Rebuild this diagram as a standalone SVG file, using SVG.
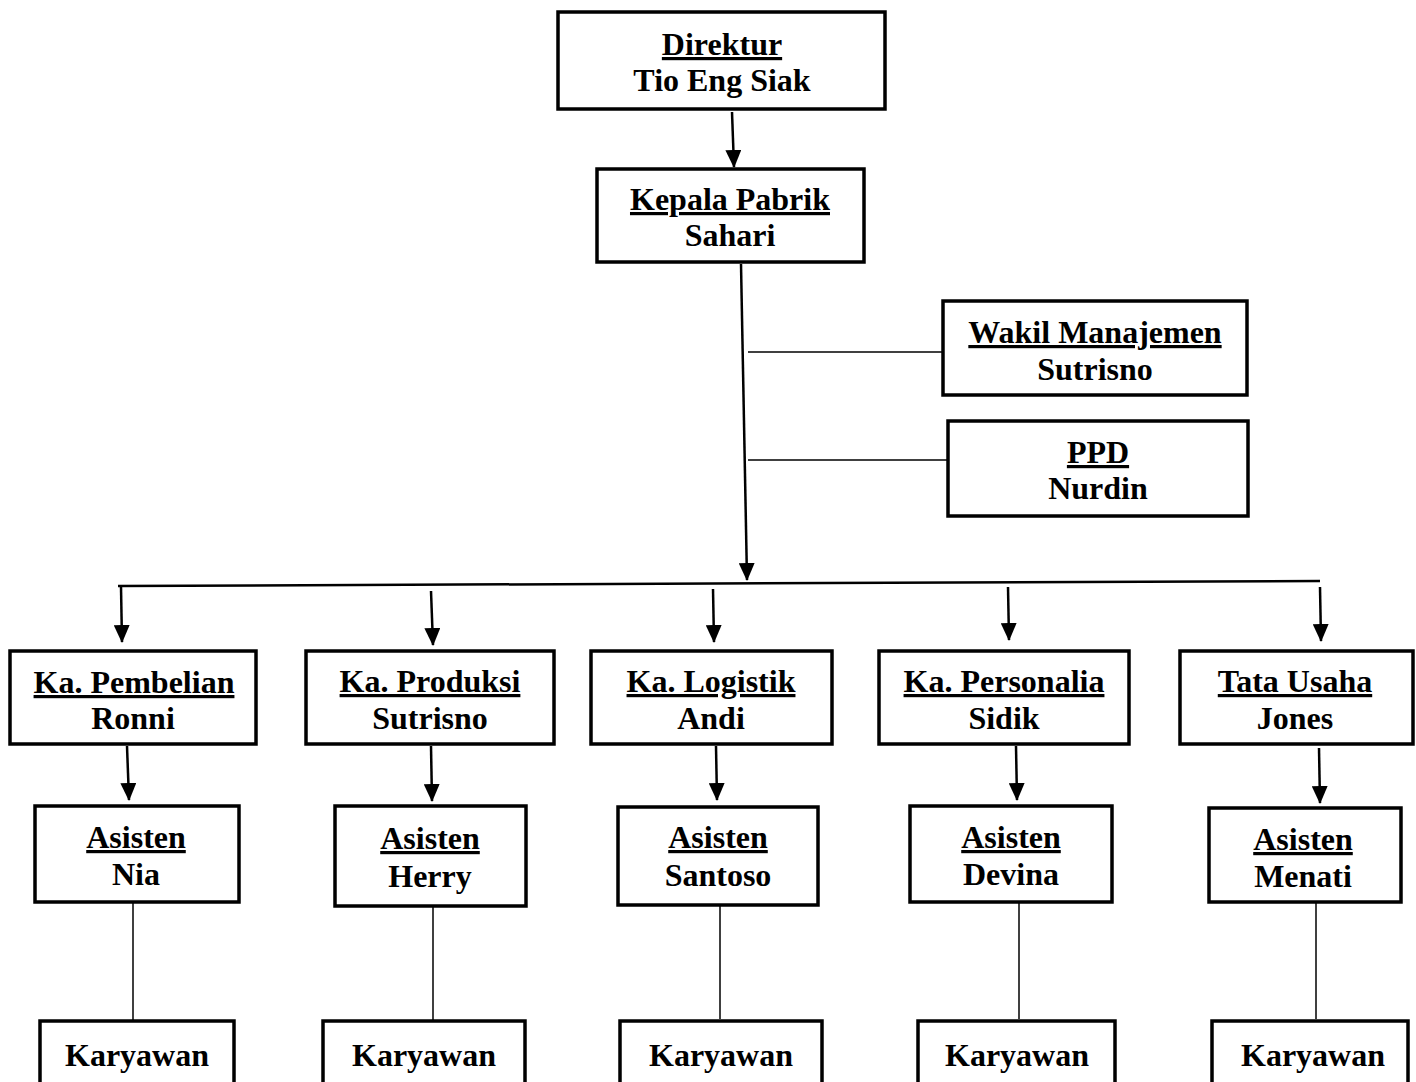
<svg xmlns="http://www.w3.org/2000/svg" width="1416" height="1082" viewBox="0 0 1416 1082">
<style>
.box{fill:#fff;stroke:#000;stroke-width:3.5}
.t{font-family:"Liberation Serif","Times New Roman",serif;font-weight:bold;font-size:32px;text-anchor:middle;fill:#000}
.u{text-decoration:underline;text-decoration-thickness:3px}
.arr{stroke:#000;stroke-width:2.5;fill:none;marker-end:url(#ah)}
.bus{stroke:#000;stroke-width:2.5;fill:none}
.thin{stroke:#000;stroke-width:1.5;fill:none}
</style>
<defs>
<marker id="ah" viewBox="0 0 18 16" refX="17" refY="8" markerWidth="18" markerHeight="16" markerUnits="userSpaceOnUse" orient="auto">
<path d="M0,0 L18,8 L0,16 z" fill="#000"/>
</marker>
</defs>
<rect width="1416" height="1082" fill="#fff"/>
<g id="connectors">
<line class="arr" x1="732" y1="112" x2="734" y2="167"/>
<line class="arr" x1="741" y1="264" x2="747" y2="580"/>
<line class="thin" x1="748" y1="352" x2="943" y2="352"/>
<line class="thin" x1="748" y1="460" x2="948" y2="460"/>
<line class="bus" x1="118" y1="586" x2="1320" y2="581"/>
<line class="arr" x1="121" y1="587" x2="122" y2="642"/>
<line class="arr" x1="431" y1="591" x2="433" y2="645"/>
<line class="arr" x1="713" y1="589" x2="714" y2="642"/>
<line class="arr" x1="1008" y1="587" x2="1009" y2="640"/>
<line class="arr" x1="1320" y1="587" x2="1321" y2="641"/>
<line class="arr" x1="127" y1="746" x2="129" y2="800"/>
<line class="arr" x1="431" y1="746" x2="432" y2="801"/>
<line class="arr" x1="716" y1="746" x2="717" y2="800"/>
<line class="arr" x1="1016" y1="746" x2="1017" y2="800"/>
<line class="arr" x1="1319" y1="748" x2="1320" y2="803"/>
<line class="thin" x1="133" y1="902" x2="133" y2="1020"/>
<line class="thin" x1="433" y1="906" x2="433" y2="1020"/>
<line class="thin" x1="720" y1="905" x2="720" y2="1019"/>
<line class="thin" x1="1019" y1="903" x2="1019" y2="1019"/>
<line class="thin" x1="1316" y1="902" x2="1316" y2="1019"/>
</g>
<g id="direktur"><rect class="box" x="558" y="12" width="327" height="97"/><text class="t u" x="722" y="55">Direktur</text><text class="t" x="722" y="91">Tio Eng Siak</text></g>
<g id="kepala-pabrik"><rect class="box" x="597" y="169" width="267" height="93"/><text class="t u" x="730" y="210">Kepala Pabrik</text><text class="t" x="730" y="246">Sahari</text></g>
<g id="wakil-manajemen"><rect class="box" x="943" y="301" width="304" height="94"/><text class="t u" x="1095" y="343">Wakil Manajemen</text><text class="t" x="1095" y="380">Sutrisno</text></g>
<g id="ppd"><rect class="box" x="948" y="421" width="300" height="95"/><text class="t u" x="1098" y="463">PPD</text><text class="t" x="1098" y="499">Nurdin</text></g>
<g id="ka-pembelian"><rect class="box" x="10" y="651" width="246" height="93"/><text class="t u" x="134" y="693">Ka. Pembelian</text><text class="t" x="133" y="729">Ronni</text></g>
<g id="ka-produksi"><rect class="box" x="306" y="651" width="248" height="93"/><text class="t u" x="430" y="692">Ka. Produksi</text><text class="t" x="430" y="729">Sutrisno</text></g>
<g id="ka-logistik"><rect class="box" x="591" y="651" width="241" height="93"/><text class="t u" x="711" y="692">Ka. Logistik</text><text class="t" x="711" y="729">Andi</text></g>
<g id="ka-personalia"><rect class="box" x="879" y="651" width="250" height="93"/><text class="t u" x="1004" y="692">Ka. Personalia</text><text class="t" x="1004" y="729">Sidik</text></g>
<g id="tata-usaha"><rect class="box" x="1180" y="651" width="233" height="93"/><text class="t u" x="1295" y="692">Tata Usaha</text><text class="t" x="1295" y="729">Jones</text></g>
<g id="asisten-nia"><rect class="box" x="35" y="806" width="204" height="96"/><text class="t u" x="136" y="848">Asisten</text><text class="t" x="136" y="885">Nia</text></g>
<g id="asisten-herry"><rect class="box" x="335" y="806" width="191" height="100"/><text class="t u" x="430" y="849">Asisten</text><text class="t" x="430" y="887">Herry</text></g>
<g id="asisten-santoso"><rect class="box" x="618" y="807" width="200" height="98"/><text class="t u" x="718" y="848">Asisten</text><text class="t" x="718" y="886">Santoso</text></g>
<g id="asisten-devina"><rect class="box" x="910" y="806" width="202" height="96"/><text class="t u" x="1011" y="848">Asisten</text><text class="t" x="1011" y="885">Devina</text></g>
<g id="asisten-menati"><rect class="box" x="1209" y="808" width="192" height="94"/><text class="t u" x="1303" y="850">Asisten</text><text class="t" x="1303" y="887">Menati</text></g>
<g id="karyawan-1"><rect class="box" x="40" y="1021" width="194" height="80"/><text class="t" x="137" y="1066">Karyawan</text></g>
<g id="karyawan-2"><rect class="box" x="323" y="1021" width="202" height="80"/><text class="t" x="424" y="1066">Karyawan</text></g>
<g id="karyawan-3"><rect class="box" x="620" y="1021" width="202" height="80"/><text class="t" x="721" y="1066">Karyawan</text></g>
<g id="karyawan-4"><rect class="box" x="918" y="1021" width="197" height="80"/><text class="t" x="1017" y="1066">Karyawan</text></g>
<g id="karyawan-5"><rect class="box" x="1212" y="1021" width="196" height="80"/><text class="t" x="1313" y="1066">Karyawan</text></g>
</svg>
